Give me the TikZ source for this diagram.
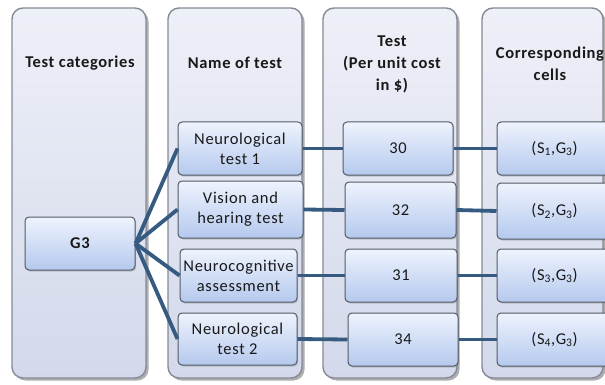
\documentclass[tikz,border=0pt]{standalone}
\usepackage{fontspec}
\setmainfont[LetterSpace=4]{Carlito}
\usetikzlibrary{shadows}
\definecolor{colTop}{HTML}{EEF0F8}
\definecolor{colBot}{HTML}{D3D9EB}
\definecolor{colEdge}{HTML}{858A96}
\definecolor{boxTop}{HTML}{EEF3FD}
\definecolor{boxBot}{HTML}{B5C9EE}
\definecolor{boxEdge}{HTML}{525A66}
\definecolor{link}{HTML}{365A80}
\tikzset{
  colbox/.style={draw=colEdge, line width=1.4pt, rounded corners=11pt,
    top color=colTop, bottom color=colBot,
    drop shadow={shadow xshift=2.5pt, shadow yshift=-2.5pt, opacity=0.45, fill=black!70}},
  ibox/.style={draw=boxEdge, line width=1pt, rounded corners=4pt,
    top color=boxTop, bottom color=boxBot, align=center, inner sep=1pt,
    font=\fontsize{16.5}{20}\selectfont, text=black!90,
    drop shadow={shadow xshift=1.2pt, shadow yshift=-1.5pt, opacity=0.35}},
  head/.style={font=\fontsize{16.5}{22}\selectfont\bfseries, align=center, text=black!90},
  link/.style={draw=link, line width=3.8pt}
}
\begin{document}
\begin{tikzpicture}[x=1pt,y=-1pt]
\clip (0,0) rectangle (605,385);
\fill[white] (0,0) rectangle (605,385);
% columns
\node[colbox, minimum width=134pt, minimum height=370pt] (col1) at (79,193) {};
\node[colbox, minimum width=134pt, minimum height=370pt] (col2) at (235,193) {};
\node[colbox, minimum width=134pt, minimum height=370pt] (col3) at (390,193) {};
\node[colbox, minimum width=121pt, minimum height=370pt] (col4) at (542.5,193) {};
% headers
\node[head] (h1) at (80,63) {Test categories};
\node[head] (h2) at (235,63) {Name of test};
\node[head] (h3) at (392,64) {Test\\(Per unit cost\\in \$)};
\node[head] (h4) at (550,64) {Corresponding\\cells};
% G3
\node[ibox, minimum width=110pt, minimum height=53pt] (g3) at (80,243.5) {\bfseries G3};
% names
\node[ibox, minimum width=124pt, minimum height=53pt] (n1) at (240,148.5) {Neurological\\test 1};
\node[ibox, minimum width=125pt, minimum height=57pt] (n2) at (240.5,209.5) {Vision and\\hearing test};
\node[ibox, minimum width=117pt, minimum height=53pt] (n3) at (238.5,275.5) {Neurocognitive\\assessment};
\node[ibox, minimum width=119pt, minimum height=52pt] (n4) at (237.5,339) {Neurological\\test 2};
% costs
\node[ibox, minimum width=110pt, minimum height=53pt] (c1) at (398,148.5) {30};
\node[ibox, minimum width=111pt, minimum height=56pt] (c2) at (400.5,210) {32};
\node[ibox, minimum width=112pt, minimum height=53pt] (c3) at (401,275.5) {31};
\node[ibox, minimum width=110pt, minimum height=53pt] (c4) at (403,339.5) {34};
% cells
\node[ibox, minimum width=115pt, minimum height=53pt] (d1) at (554.5,148.5) {(S\textsubscript{1},G\textsubscript{3})};
\node[ibox, minimum width=115pt, minimum height=56pt] (d2) at (554.5,211) {(S\textsubscript{2},G\textsubscript{3})};
\node[ibox, minimum width=115pt, minimum height=53pt] (d3) at (554.5,275.5) {(S\textsubscript{3},G\textsubscript{3})};
\node[ibox, minimum width=115pt, minimum height=53pt] (d4) at (554.5,339.5) {(S\textsubscript{4},G\textsubscript{3})};
% connectors
\foreach \n in {n1,n2,n3,n4} {\path[link] (g3.east) -- (\n.west);}
\path[link] (n1.east) -- (c1.west);
\path[link] (n2.east) -- (c2.west);
\path[link] (n3.east) -- (c3.west);
\path[link] (n4.east) -- (c4.west);
\path[link] (c1.east) -- (d1.west);
\path[link] (c2.east) -- (d2.west);
\path[link] (c3.east) -- (d3.west);
\path[link] (c4.east) -- (d4.west);
\end{tikzpicture}
\end{document}
